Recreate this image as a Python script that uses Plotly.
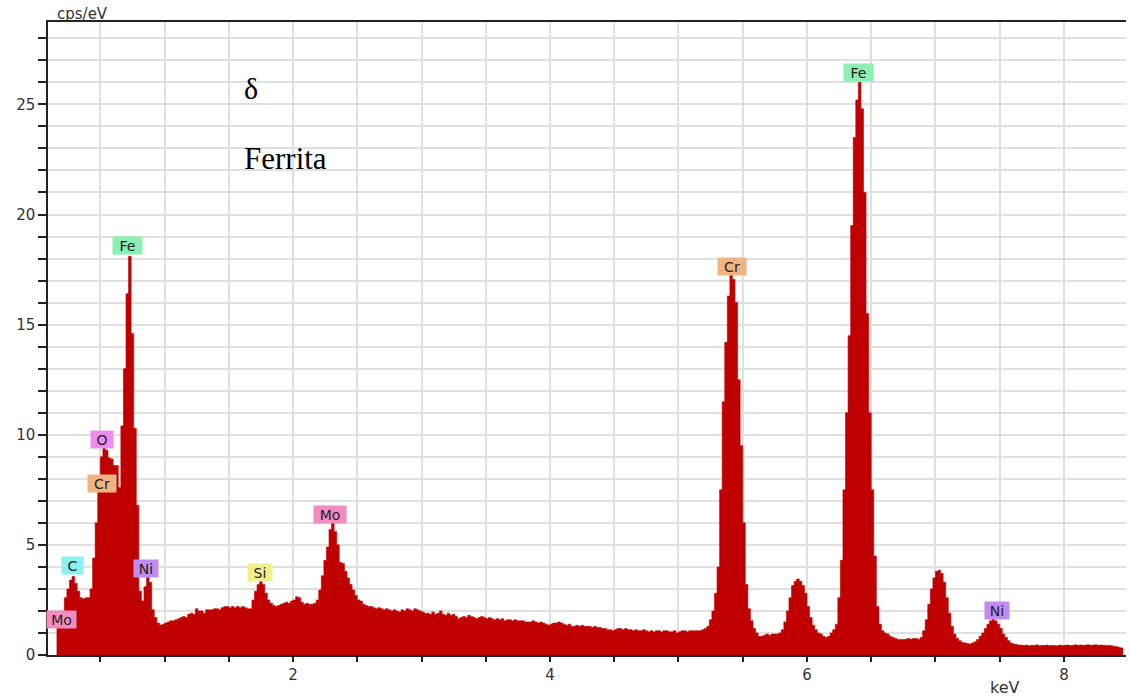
import numpy as np
import plotly.graph_objects as go

# EDS spectrum: channel start energy (keV) and width
E_START = 0.16
E_STEP = 0.02

# counts (cps/eV) per channel
counts = [
    1.25, 1.3, 1.4, 2.6, 3.0, 3.4, 3.56, 3.25, 2.9, 2.6,          # 0.16-0.34
    2.55, 2.6, 2.6, 3.0, 4.4, 6.0, 7.4, 9.0, 9.4, 9.3,            # 0.36-0.54
    8.95, 8.9, 8.6, 8.6, 7.6, 10.4, 13.0, 16.4, 18.1, 14.6,       # 0.56-0.74
    10.3, 6.8, 2.9, 2.45, 3.1, 3.56, 3.3, 2.05, 1.7, 1.45,        # 0.76-0.94
    1.36, 1.4, 1.45, 1.5, 1.55, 1.55, 1.6, 1.65, 1.7, 1.75,       # 0.96-1.14
    1.7, 1.85, 1.9, 1.85, 2.1, 2.0, 2.0, 1.9, 2.05, 2.05,         # 1.16-1.34
    2.05, 2.1, 2.1, 2.05, 2.15, 2.2, 2.2, 2.15, 2.2, 2.15,        # 1.36-1.54
    2.2, 2.15, 2.2, 2.15, 2.1, 2.1, 2.5, 2.9, 3.2, 3.35,          # 1.56-1.74
    3.2, 2.8, 2.5, 2.35, 2.25, 2.2, 2.25, 2.3, 2.35, 2.4,         # 1.76-1.94
    2.35, 2.45, 2.5, 2.65, 2.6, 2.4, 2.3, 2.35, 2.3, 2.3,         # 1.96-2.14
    2.35, 2.5, 2.95, 3.6, 4.3, 4.9, 5.7, 6.0, 5.6, 5.0,           # 2.16-2.34
    4.2, 4.15, 3.8, 3.5, 3.2, 2.95, 2.7, 2.5, 2.45, 2.3,          # 2.36-2.54
    2.25, 2.2, 2.2, 2.15, 2.1, 2.15, 2.1, 2.05, 2.1, 2.05,        # 2.56-2.74
    2.0, 2.05, 2.0, 1.95, 2.05, 2.0, 2.1, 2.05, 2.0, 2.1,         # 2.76-2.94
    2.05, 2.0, 1.95, 1.9, 1.9, 1.85, 1.95, 1.85, 1.9, 2.0,        # 2.96-3.14
    1.85, 1.8, 1.9, 1.8, 1.85, 1.75, 1.65, 1.7, 1.75, 1.7,        # 3.16-3.34
    1.8, 1.75, 1.7, 1.65, 1.7, 1.75, 1.7, 1.65, 1.7, 1.65,        # 3.36-3.54
    1.6, 1.65, 1.6, 1.65, 1.55, 1.6, 1.6, 1.55, 1.6, 1.55,        # 3.56-3.74
    1.55, 1.55, 1.5, 1.5, 1.5, 1.55, 1.5, 1.45, 1.5, 1.45,        # 3.76-3.94
    1.4, 1.35, 1.4, 1.45, 1.45, 1.5, 1.45, 1.4, 1.35, 1.4,        # 3.96-4.14
    1.3, 1.3, 1.35, 1.3, 1.35, 1.3, 1.3, 1.3, 1.25, 1.3,          # 4.16-4.34
    1.25, 1.25, 1.2, 1.2, 1.15, 1.15, 1.1, 1.15, 1.2, 1.2,        # 4.36-4.54
    1.15, 1.2, 1.15, 1.15, 1.1, 1.15, 1.1, 1.1, 1.15, 1.1,        # 4.56-4.74
    1.05, 1.1, 1.05, 1.1, 1.1, 1.05, 1.1, 1.1, 1.05, 1.05,        # 4.76-4.94
    1.1, 1.0, 1.05, 1.1, 1.1, 1.05, 1.1, 1.1, 1.1, 1.1,           # 4.96-5.14
    1.1, 1.15, 1.2, 1.3, 1.6, 2.0, 2.8, 4.0, 7.5, 11.5,           # 5.16-5.34
    14.2, 16.3, 17.35, 17.05, 16.0, 12.5, 9.5, 6.0, 3.2, 2.1,     # 5.36-5.54
    1.55, 1.2, 1.0, 0.85, 0.85, 0.9, 0.95, 0.9, 0.95, 0.95,       # 5.56-5.74
    0.95, 1.0, 1.15, 1.5, 2.0, 2.6, 3.15, 3.35, 3.45, 3.35,       # 5.76-5.94
    3.15, 2.8, 2.2, 1.7, 1.35, 1.15, 1.0, 0.95, 0.85, 0.8,        # 5.96-6.14
    0.85, 1.0, 1.15, 1.4, 2.6, 4.3, 7.5, 11.0, 14.5, 19.5,        # 6.16-6.34
    23.5, 25.2, 26.0, 24.8, 21.0, 15.5, 11.0, 7.5, 4.5, 2.2,      # 6.36-6.54
    1.4, 1.1, 1.0, 0.95, 0.85, 0.8, 0.75, 0.7, 0.7, 0.7,          # 6.56-6.74
    0.72, 0.75, 0.72, 0.75, 0.75, 0.72, 0.8, 1.1, 1.6, 2.3,       # 6.76-6.94
    3.0, 3.5, 3.8, 3.85, 3.7, 3.3, 2.6, 1.9, 1.3, 0.95,           # 6.96-7.14
    0.75, 0.65, 0.58, 0.55, 0.52, 0.5, 0.55, 0.6, 0.7, 0.85,      # 7.16-7.34
    1.0, 1.2, 1.4, 1.55, 1.62, 1.55, 1.4, 1.2, 0.95, 0.8,         # 7.36-7.54
    0.65, 0.55, 0.5, 0.48, 0.45, 0.45, 0.43, 0.45, 0.42, 0.44,    # 7.56-7.74
    0.43, 0.46, 0.42, 0.44, 0.43, 0.45, 0.42, 0.44, 0.43, 0.42,   # 7.76-7.94
    0.45, 0.43, 0.44, 0.45, 0.43, 0.44, 0.46, 0.44, 0.45, 0.44,   # 7.96-8.14
    0.45, 0.46, 0.44, 0.45, 0.46, 0.44, 0.45, 0.44, 0.43, 0.44,   # 8.16-8.34
    0.42, 0.40, 0.38, 0.35, 0.32, 0.30,                           # 8.36-8.46
]

energies = np.round(E_START + E_STEP * np.arange(len(counts)), 3)

# peak labels: element, energy (keV), label height (cps/eV)
label_text = ["Mo", "C", "O", "Cr", "Fe", "Ni", "Si", "Mo", "Cr", "Fe", "Ni"]
label_x = [0.20, 0.284, 0.514, 0.514, 0.708, 0.856, 1.743, 2.288, 5.416, 6.40, 7.48]
label_y = [1.6, 4.07, 9.77, 7.8, 18.57, 3.93, 3.75, 6.39, 17.66, 26.43, 2.02]

# label box styling
label_col = ["#f28cc0", "#8cf0f0", "#f08cf0", "#f0b482", "#8cf0b4", "#c08cf0",
             "#f0f08c", "#f28cc0", "#f0b482", "#8cf0b4", "#c08cf0"]
label_w = [27, 19, 20, 26, 27, 22, 22, 30, 26, 27, 22]

x_tick_vals = [2, 4, 6, 8]
y_tick_vals = [0, 5, 10, 15, 20, 25]

RED = "#c00000"
FONT = "DejaVu Sans"

fig = go.Figure()
fig.add_trace(go.Scatter(
    x=energies, y=counts, mode="lines", line_shape="hv",
    line=dict(color=RED, width=0.6), fill="tozeroy", fillcolor=RED,
    hoverinfo="skip", showlegend=False,
))

for t, x, y, c, w in zip(label_text, label_x, label_y, label_col, label_w):
    fig.add_annotation(x=x, y=y, xref="x", yref="y", text=t, showarrow=False,
                       bgcolor=c, borderpad=1, width=w, height=15, align="center",
                       font=dict(family=FONT, size=14, color="#222222"))

fig.add_annotation(x=1.603, y=25.7, xref="x", yref="y", text="δ", showarrow=False,
                   xanchor="left", font=dict(family="Liberation Serif", size=30, color="black"))
fig.add_annotation(x=1.603, y=22.53, xref="x", yref="y", text="Ferrita", showarrow=False,
                   xanchor="left", font=dict(family="Liberation Serif", size=31, color="black"))

fig.add_annotation(x=0.0065, y=1.0, xref="paper", yref="paper", text="cps/eV",
                   showarrow=False, xanchor="left", yanchor="bottom", yshift=-3,
                   font=dict(family=FONT, size=15, color="#333333"))
fig.add_annotation(x=0.888, y=-0.052, xref="paper", yref="paper", text="keV",
                   showarrow=False, xanchor="center", yanchor="middle",
                   font=dict(family=FONT, size=16, color="#333333"))

fig.update_xaxes(
    range=[0.093, 8.483], tickvals=x_tick_vals, ticktext=[str(v) for v in x_tick_vals],
    ticks="outside", ticklen=5, tickwidth=1.5, tickcolor="#222222",
    showline=True, linecolor="#222222", linewidth=1.5, mirror=True,
    showgrid=True, gridcolor="#e0e0e0", gridwidth=2, zeroline=False,
    minor=dict(dtick=0.5, tick0=0, ticks="outside", ticklen=5, tickwidth=1.5,
               tickcolor="#222222", showgrid=True, gridcolor="#e0e0e0", gridwidth=2),
    tickfont=dict(family=FONT, size=15, color="#333333"),
)
fig.update_yaxes(
    range=[0, 28.74], tickvals=y_tick_vals, ticktext=[str(v) for v in y_tick_vals],
    ticks="outside", ticklen=8, tickwidth=1.5, tickcolor="#222222",
    showline=True, linecolor="#222222", linewidth=1.5,
    showgrid=True, gridcolor="#e0e0e0", gridwidth=2, zeroline=False,
    minor=dict(dtick=1, tick0=0, ticks="outside", ticklen=8, tickwidth=1.5,
               tickcolor="#222222", showgrid=True, gridcolor="#e0e0e0", gridwidth=2),
    tickfont=dict(family=FONT, size=15, color="#333333"),
)

fig.update_layout(
    width=1130, height=698,
    margin=dict(l=48, r=4, t=22, b=43),
    paper_bgcolor="white", plot_bgcolor="white",
    font=dict(family=FONT),
)

fig.write_html("out.html")
